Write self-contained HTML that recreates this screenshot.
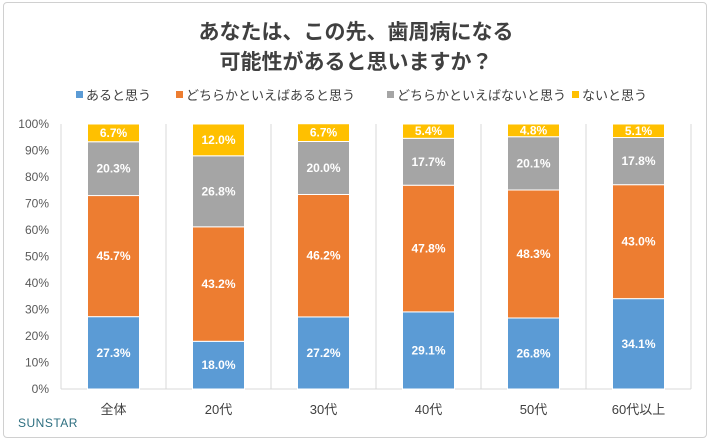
<!DOCTYPE html>
<html><head><meta charset="utf-8">
<style>
body{margin:0;background:#fff;font-family:"Liberation Sans","Noto Sans CJK JP",sans-serif;}
#wrap{position:relative;width:712px;height:442px;overflow:hidden}
#frame{position:absolute;left:3px;top:2px;width:704px;height:436px;border:1px solid #d0d0d0;border-radius:4px;box-sizing:border-box}
.title{position:absolute;left:0;width:712px;text-align:center;font-size:21px;font-weight:bold;color:#404040}
</style></head><body>
<div id="wrap">
<div id="frame"></div>
<div class="title" style="top:16px">あなたは、この先、歯周病になる</div>
<div class="title" style="top:46px">可能性があると思いますか？</div>
<svg id="chart" width="712" height="442" style="position:absolute;left:0;top:0"></svg>
</div>
<script>
const categories=["全体","20代","30代","40代","50代","60代以上"];
const seriesNames=["あると思う","どちらかといえばあると思う","どちらかといえばないと思う","ないと思う"];
const s1=[27.3,18.0,27.2,29.1,26.8,34.1];
const s2=[45.7,43.2,46.2,47.8,48.3,43.0];
const s3=[20.3,26.8,20.0,17.7,20.1,17.8];
const s4=[6.7,12.0,6.7,5.4,4.8,5.1];
const yTicks=[0,10,20,30,40,50,60,70,80,90,100];
const colors=["#5b9bd5","#ed7d31","#a5a5a5","#ffc000"];
const series=[s1,s2,s3,s4];
const ns="http://www.w3.org/2000/svg";
const svg=document.getElementById('chart');
const L=61,R=691,T=124,B=389;
const band=(R-L)/categories.length, bw=52;
const y=v=>B-(v/100)*(B-T);
const xc=i=>L+band*(i+0.5);
function mk(t,a){const e=document.createElementNS(ns,t);for(const k in a)e.setAttribute(k,a[k]);svg.appendChild(e);return e;}
for(let i=0;i<=categories.length;i++){
 const e=mk('line',{x1:L+band*i,x2:L+band*i,y1:T,y2:B,stroke:'#d9d9d9'});
 
 
}
const base=mk('line',{x1:L,x2:R,y1:B,y2:B,stroke:'#d9d9d9'});


yTicks.forEach(t=>{
 const e=mk('text',{x:L-12,y:y(t)+4,'text-anchor':'end','font-size':12,fill:'#595959'});
 e.textContent=t+'%';
 
 
});
categories.forEach((c,i)=>{
 let acc=0;
 series.forEach((s,k)=>{
  const v=s[i];
  const r=mk('rect',{x:xc(i)-bw/2,y:y(acc+v),width:bw,height:y(acc)-y(acc+v),fill:colors[k],stroke:'#fff','stroke-width':1});
  
  
  const tx=mk('text',{x:xc(i),y:(y(acc)+y(acc+v))/2+4,'text-anchor':'middle','font-size':12,'font-weight':'bold',fill:'#fff'});
  tx.textContent=v.toFixed(1)+'%';
  
  
  acc+=v;
 });
 const lb=mk('text',{x:xc(i),y:414,'text-anchor':'middle','font-size':13,fill:'#404040'});
 lb.textContent=c;
 
 
});
const legX=[76,176,387,572];
seriesNames.forEach((n,k)=>{
 const r=mk('rect',{x:legX[k],y:91,width:7,height:7,fill:colors[k]});
 
 
 const t=mk('text',{x:legX[k]+10,y:100,'font-size':13,fill:'#404040'});
 t.textContent=n;
 
 
});
const logo=mk('text',{x:18,y:427,'font-size':12,fill:'#2e6f80','letter-spacing':'0.5'});
logo.textContent='SUNSTAR';


</script>
</body></html>
